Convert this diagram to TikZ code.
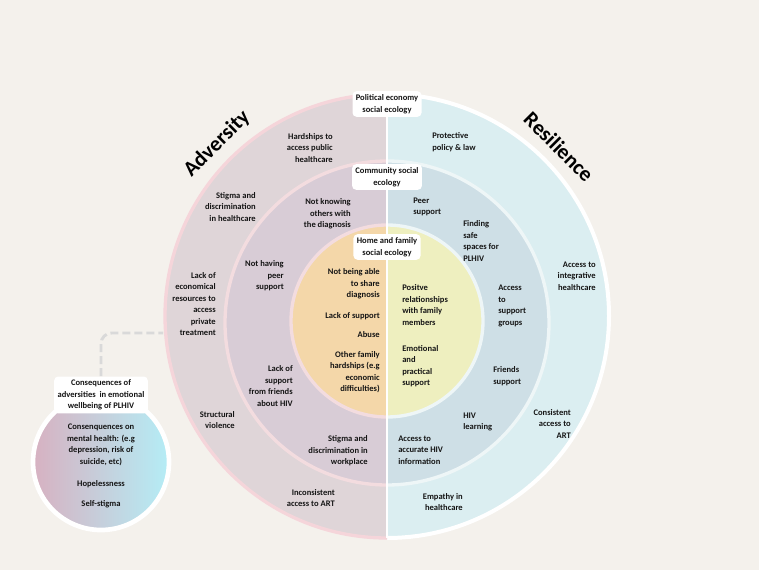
\documentclass[tikz,border=0pt]{standalone}
\usepackage{fontspec}
\setmainfont{Carlito}
\usepackage{tikz}
\usetikzlibrary{positioning}

\definecolor{bgc}{HTML}{F4F1EC}
\definecolor{loutc}{HTML}{DFD5D8}
\definecolor{lmidc}{HTML}{D8CCD6}
\definecolor{linc}{HTML}{F4D7A9}
\definecolor{routc}{HTML}{DBEEF1}
\definecolor{rmidc}{HTML}{CEDFE6}
\definecolor{rinc}{HTML}{EEEFBF}
\definecolor{ringl}{HTML}{F3DCDF}
\definecolor{ringr}{HTML}{EEF6F7}
\definecolor{edgel}{HTML}{F5D5DA}
\definecolor{gradl}{HTML}{D7B1C1}
\definecolor{gradr}{HTML}{B4EDF6}
\definecolor{dashc}{HTML}{D9D9D9}
\definecolor{ink}{HTML}{151515}

\begin{document}
\begin{tikzpicture}[x=0.75pt,y=-0.75pt,
    txt/.style={inner sep=0pt, text=ink, font=\fontsize{6.4}{8.6}\selectfont\bfseries},
    lt/.style={txt, align=right, anchor=east},
    rt/.style={txt, align=left, anchor=west},
    ct/.style={txt, align=center},
    eco/.style={txt, align=center, fill=white, rounded corners=3pt, inner sep=2.5pt},
    ttl/.style={inner sep=0pt, text=black, font=\fontsize{16}{19}\selectfont\bfseries}]
    \useasboundingbox (0,0) rectangle (759,570);
    \fill[bgc] (0,0) rectangle (759,570);

    % resilience half
    \begin{scope}
        \clip (387,0) rectangle (759,570);
        \draw[line width=3pt, draw=white, fill=routc] (387,316) circle[radius=222];
        \draw[line width=2.5pt, draw=ringr, fill=rmidc] (387,323) circle[radius=162];
        \draw[line width=2.5pt, draw=ringr, fill=rinc] (387,321) circle[radius=96];
    \end{scope}
    % adversity half
    \begin{scope}
        \clip (0,0) rectangle (387,570);
        \draw[line width=2.5pt, draw=edgel, fill=loutc] (387,316) circle[radius=222];
        \draw[line width=2.5pt, draw=ringl, fill=lmidc] (387,323) circle[radius=162];
        \draw[line width=2.5pt, draw=ringl, fill=linc] (387,321) circle[radius=96];
    \end{scope}
    \draw[white, line width=1.5pt] (387,95) -- (387,538);

    \node (adv) [ttl, rotate=45] at (217,144) {Adversity};
    \node (res) [ttl, rotate=-45] at (559,147) {Resilience};

    % ecology labels
    \node (pol) [eco] at (387,104) {Political economy\\social ecology};
    \node (com) [eco] at (387,177) {Community social\\ecology};
    \node (home) [eco] at (387,247) {Home and family\\social ecology};

    % political economy, adversity
    \node (hard) [lt] at (333,148) {Hardships to\\access public\\healthcare};
    \node (stgh) [lt] at (256,207) {Stigma and\\discrimination\\in healthcare};
    \node (econ) [lt] at (216,304) {Lack of\\economical\\resources to\\access\\private\\treatment};
    \node (strc) [lt] at (235,420) {Structural\\violence};
    \node (inart) [lt] at (335,498) {Inconsistent\\access to ART};

    % community, adversity
    \node (know) [lt] at (351,214) {Not knowing\\others with\\the diagnosis};
    \node (nopeer) [lt] at (284,276) {Not having\\peer\\support};
    \node (nofrnd) [lt] at (293,386) {Lack of\\support\\from friends\\about HIV};
    \node (stgw) [lt] at (368,451) {Stigma and\\discrimination in\\workplace};

    % home, adversity
    \node (share) [lt] at (380,284) {Not being able\\to share\\diagnosis};
    \node (lack) [lt] at (380,316) {Lack of support};
    \node (abuse) [lt] at (380,335) {Abuse};
    \node (other) [lt] at (380,372) {Other family\\hardships (e.g\\economic\\difficulties)};

    % home, resilience
    \node (posr) [rt] at (402,305) {Positve\\relationships\\with family\\members};
    \node (emot) [rt] at (402,366) {Emotional\\and\\practical\\support};

    % community, resilience
    \node (psup) [rt] at (413,207) {Peer\\support};
    \node (safe) [rt] at (463,241) {Finding\\safe\\spaces for\\PLHIV};
    \node (grp) [rt] at (498,306) {Access\\to\\support\\groups};
    \node (fsup) [rt] at (493,376) {Friends\\support};
    \node (hivl) [rt] at (463,422) {HIV\\learning};
    \node (info) [rt] at (398,450) {Access to\\accurate HIV\\information};

    % political economy, resilience
    \node (prot) [rt] at (432,142) {Protective\\policy \& law};
    \node (integ) [lt] at (596,276) {Access to\\integrative\\healthcare};
    \node (cart) [lt] at (571,424) {Consistent\\access to\\ART};
    \node (emp) [lt] at (463,502) {Empathy in\\healthcare};

    % consequences
    \draw[line width=3.5pt, draw=white, left color=gradl, right color=gradr] (101,462) circle[radius=68];
    \node (cons) [eco] at (101,395) {Consequences of\\adversities\ \ in emotional\\wellbeing of PLHIV};
    \node (ment) [ct] at (101,445) {Consenquences on\\mental health: (e.g\\depression, risk of\\suicide, etc)};
    \node (hope) [ct] at (101,484) {Hopelessness};
    \node (self) [ct] at (101,504) {Self-stigma};

    \coordinate (link) at (163,333);
    \draw[dashc, line width=2.2pt, dash pattern=on 6pt off 3pt, rounded corners=8pt] (cons.north) |- (link);
\end{tikzpicture}
\end{document}
